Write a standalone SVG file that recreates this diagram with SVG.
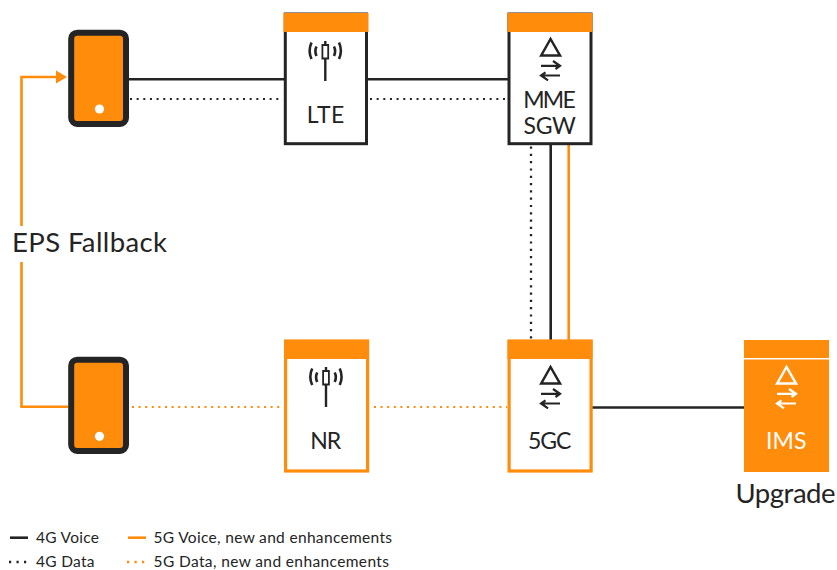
<svg xmlns="http://www.w3.org/2000/svg" width="837" height="570" viewBox="0 0 837 570">
<style>
text{font-family:Lato,"Noto Sans","Liberation Sans",sans-serif;fill:#242424}
.solid{fill:none;stroke:#242424;stroke-width:2.6}
.dots{fill:none;stroke:#242424;stroke-width:2;stroke-dasharray:2 4.65}
.vdots{fill:none;stroke:#242424;stroke-width:2.3;stroke-dasharray:2.2 5.1}
.o{fill:none;stroke:#ff8c0a;stroke-width:2.6}
.odots{fill:none;stroke:#ff8c0a;stroke-width:2;stroke-dasharray:2 4.6}
.ldots{fill:none;stroke-width:2.3;stroke-dasharray:2.2 5.3}
.lbl{font-size:23px;text-anchor:middle}
.leg{font-size:15.5px}
.big{font-size:27.5px}
.phone{fill:#ff8c0a;stroke:#242424;stroke-width:6}
.dot{fill:#fff}
.hdr{fill:#ff8c0a}
.boxk{fill:#fff;stroke:#242424;stroke-width:3}
.boxo{fill:#fff;stroke:#ff8c0a;stroke-width:3.2}
.ic{fill:none;stroke:#242424;stroke-width:2.5}
.icw{fill:none;stroke:#fff;stroke-width:2.5}
</style>
<defs>
<g id="ant">
<path d="M325.3 41V45M325.3 58.5V81" stroke-width="2.4"/>
<path d="M322.4 45h5.8v13.5h-5.8z" stroke-width="1.8"/>
<path d="M316.5 46.5a11 11 0 0 0 0 9.5M334 46.5a11 11 0 0 1 0 9.5M311.5 42.5a20 20 0 0 0 0 16.5M339 42.5a20 20 0 0 1 0 16.5" stroke-width="2.6"/>
</g>
<g id="core">
<path d="M550.5 39L541.2 55.5H560Z"/>
<path d="M541 65.8H560M553 61L560 65.8L555.5 69M560 75.5H541M548 80.3L541 75.5L545.5 72.3" stroke-width="2.2"/>
</g>
</defs>
<g id="connectors">
<path class="solid" d="M129 79.3H285M367 79.3H508"/>
<path class="dots" d="M130 99H283M370 99H508"/>
<path class="vdots" d="M531 146.5V339"/>
<path class="solid" d="M550.7 145V340"/>
<path class="o" d="M568.7 145V340"/>
<path class="odots" d="M132 407H283M374 407H507"/>
<path class="solid" d="M592 407.5H744"/>
<path class="o" d="M68 406.8H21.5V262M21.5 226V77H57"/>
<path d="M67 77L56 70.5V83.5Z" fill="#ff8c0a"/>
</g>
<g id="phone-top"><rect class="phone" x="71.2" y="32.7" width="54.8" height="91.3" rx="6"/><circle class="dot" cx="99.5" cy="109" r="4.6"/></g>
<g id="phone-bottom"><rect class="phone" x="71.2" y="359.7" width="54.8" height="91.3" rx="6"/><circle class="dot" cx="99.5" cy="436.3" r="4.6"/></g>
<g id="lte"><rect class="boxk" x="285.3" y="14" width="81.2" height="129.7"/><rect class="hdr" x="283.5" y="13" width="85" height="19"/><use href="#ant" class="ic"/><text class="lbl" x="325.5" y="122.5" textLength="37.5">LTE</text></g>
<g id="mme"><rect class="boxk" x="509" y="14" width="82" height="129.7"/><rect class="hdr" x="507.5" y="13" width="85" height="19"/><use href="#core" class="ic"/><text class="lbl" x="549.5" y="108" textLength="52.5">MME</text><text class="lbl" x="549.7" y="133.5" textLength="52.5">SGW</text></g>
<g id="nr"><rect class="boxo" x="285.6" y="341" width="82" height="130"/><rect class="hdr" x="284" y="340" width="85" height="19"/><use href="#ant" class="ic" y="326" x="0.7"/><text class="lbl" x="325.7" y="449" textLength="31">NR</text></g>
<g id="fivegc"><rect class="boxo" x="509.1" y="341" width="82" height="130"/><rect class="hdr" x="507.5" y="340" width="85" height="19"/><use href="#core" class="ic" y="328"/><text class="lbl" x="549.7" y="449" textLength="43.5">5GC</text></g>
<g id="ims"><rect class="hdr" x="744" y="340" width="85" height="132"/><path d="M744 358.7H829" stroke="#fff" stroke-width="1.6"/><use href="#core" class="icw" x="236" y="328"/><text class="lbl" x="786.3" y="449" textLength="40.5" style="fill:#fff">IMS</text></g>
<text class="big" x="12" y="252" textLength="155">EPS Fallback</text>
<text class="big" x="785.5" y="503" text-anchor="middle" textLength="100">Upgrade</text>
<g id="legend">
<path class="solid" d="M10 537.7H28"/><text class="leg" x="36" y="543" textLength="63">4G Voice</text>
<path class="o" d="M128 537.7H146"/><text class="leg" x="153.5" y="543" textLength="238.5">5G Voice, new and enhancements</text>
<path class="ldots" stroke="#242424" d="M9 562H27"/><text class="leg" x="36" y="567" textLength="58.5">4G Data</text>
<path class="ldots" stroke="#ff8c0a" d="M127 562H145"/><text class="leg" x="153.5" y="567" textLength="235.5">5G Data, new and enhancements</text>
</g>
</svg>
